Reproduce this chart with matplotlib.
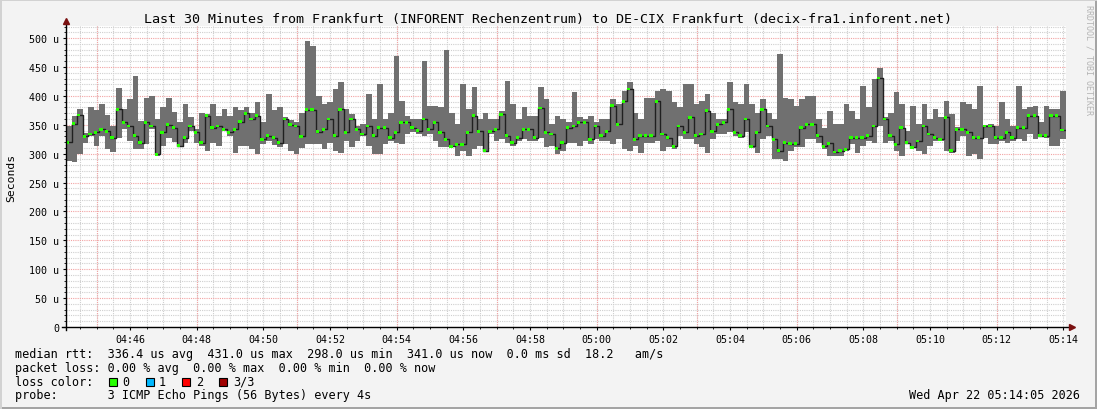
import numpy as np
import matplotlib
matplotlib.use('Agg')
from matplotlib import pyplot as plt
from matplotlib.ticker import MultipleLocator, FuncFormatter
from matplotlib.patches import Rectangle

# time axis: 10 s steps from 04:44:05
start = 4*3600 + 44*60 + 5
step = 10

# min / median / max rtt per step (microseconds)
lo = [288, 285, 300, 318, 331, 313, 331, 308, 303, 328, 342, 322, 308, 308, 316, 342, 296, 313, 328, 320,
      311, 319, 339, 319, 313, 305, 319, 313, 339, 331, 302, 313, 313, 308, 300, 316, 322, 315, 311, 316,
      305, 299, 310, 316, 316, 316, 308, 319, 305, 302, 322, 311, 322, 331, 313, 299, 299, 316, 322, 319,
      316, 334, 337, 334, 331, 334, 322, 311, 311, 311, 296, 305, 296, 308, 313, 303, 334, 322, 325, 319,
      313, 322, 325, 322, 322, 328, 311, 313, 299, 305, 319, 319, 313, 322, 316, 325, 322, 322, 316, 325,
      308, 305, 313, 302, 319, 319, 322, 305, 311, 308, 331, 325, 325, 316, 311, 302, 325, 334, 334, 337,
      331, 328, 337, 310, 302, 325, 331, 291, 291, 288, 305, 311, 311, 325, 325, 319, 308, 296, 296, 296,
      305, 316, 302, 313, 322, 319, 348, 319, 322, 305, 296, 316, 309, 305, 299, 313, 322, 322, 305, 302,
      322, 331, 296, 299, 291, 328, 316, 316, 322, 319, 322, 325, 322, 334, 325, 329, 328, 313, 313, 325]
med = [320, 352, 367, 330, 334, 337, 342, 339, 328, 377, 354, 348, 331, 319, 354, 348, 299, 337, 350, 345,
       314, 328, 348, 337, 319, 366, 345, 348, 342, 337, 342, 355, 370, 360, 366, 325, 331, 328, 319, 360,
       350, 348, 330, 376, 376, 338, 342, 360, 331, 377, 337, 360, 342, 334, 348, 331, 345, 345, 328, 337,
       354, 354, 345, 340, 360, 342, 354, 337, 325, 313, 316, 316, 337, 366, 339, 305, 339, 342, 368, 331,
       319, 328, 342, 342, 328, 379, 337, 334, 309, 319, 345, 348, 354, 354, 325, 348, 331, 339, 383, 351,
       391, 412, 325, 331, 331, 331, 391, 334, 328, 313, 348, 337, 363, 331, 334, 374, 339, 351, 354, 377,
       337, 331, 360, 313, 337, 377, 348, 325, 305, 319, 317, 317, 345, 351, 351, 331, 313, 318, 303, 305,
       308, 328, 328, 328, 331, 348, 431, 360, 331, 316, 345, 319, 311, 322, 348, 334, 328, 325, 363, 305,
       342, 342, 337, 328, 328, 348, 348, 328, 328, 337, 328, 345, 345, 366, 366, 331, 331, 366, 366, 341]
hi = [348, 365, 378, 335, 380, 375, 386, 367, 348, 413, 377, 394, 434, 357, 397, 400, 360, 380, 397, 372,
      354, 386, 363, 342, 371, 368, 386, 366, 377, 366, 380, 375, 380, 371, 389, 354, 403, 375, 380, 363,
      358, 354, 370, 495, 487, 400, 386, 389, 412, 424, 377, 368, 348, 351, 403, 360, 420, 360, 371, 469,
      391, 366, 360, 360, 461, 383, 383, 380, 480, 371, 351, 420, 377, 415, 360, 371, 360, 360, 374, 426,
      386, 360, 380, 366, 366, 415, 394, 351, 366, 360, 354, 406, 363, 360, 366, 354, 360, 360, 394, 386,
      409, 424, 371, 360, 397, 397, 409, 412, 409, 389, 380, 420, 420, 386, 391, 403, 371, 360, 360, 424,
      389, 386, 420, 386, 371, 394, 371, 360, 472, 397, 394, 383, 394, 400, 400, 360, 345, 374, 351, 351,
      386, 374, 360, 418, 380, 429, 448, 363, 371, 406, 386, 339, 383, 351, 386, 360, 377, 363, 391, 368,
      346, 389, 386, 377, 418, 350, 352, 348, 389, 360, 348, 418, 377, 380, 383, 354, 383, 377, 377, 409]

title = 'Last 30 Minutes from Frankfurt (INFORENT Rechenzentrum) to DE-CIX Frankfurt (decix-fra1.inforent.net)'
stats = [
    'median rtt:  336.4 us avg  431.0 us max  298.0 us min  341.0 us now  0.0 ms sd  18.2   am/s',
    'packet loss: 0.00 % avg  0.00 % max  0.00 % min  0.00 % now',
    'loss color:',
    'probe:       3 ICMP Echo Pings (56 Bytes) every 4s',
]
loss_labels = ['0', '1', '2', '3/3']
loss_colors = ['#26ff00', '#00b8ff', '#ff0000', '#a00000']
stamp = 'Wed Apr 22 05:14:05 2026'

W, H = 1097, 410
mono = 'DejaVu Sans Mono'
fig = plt.figure(figsize=(W/100, H/100), dpi=100, facecolor='#f3f3f3')
ax = fig.add_axes([66/W, 1 - 328/H, 1000/W, 301/H])
ax.set_facecolor('white')

n = len(med)
t = start + step*np.arange(n + 1)
lo_e = np.append(lo, lo[-1])
hi_e = np.append(hi, hi[-1])
med_e = np.append(med, med[-1])

ax.fill_between(t, lo_e, hi_e, step='post', color='#707070', lw=0, zorder=3)
ax.step(t, med_e, where='post', color='#202020', lw=1, zorder=4)
ax.bar(t[:-1], 5, bottom=np.array(med) - 2.5, width=step*0.6, align='edge',
       color=loss_colors[0], lw=0, zorder=5)

ax.set_xlim(start, start + 1800)
ax.set_ylim(0, 521)

# grid: gray dotted minor, red dotted major
ax.xaxis.set_major_locator(MultipleLocator(120))
ax.xaxis.set_minor_locator(MultipleLocator(30))
ax.yaxis.set_major_locator(MultipleLocator(50))
ax.yaxis.set_minor_locator(MultipleLocator(10))
gcol = '#cfcfcf'
rcol = '#f2a3a3'
ax.grid(which='both', axis='x', color=gcol, ls=(0, (1, 1)), lw=0.8, zorder=1)
ax.grid(which='minor', axis='y', color=gcol, ls=(0, (1, 1)), lw=0.8, zorder=1)
ax.grid(which='major', axis='y', color=rcol, ls=(0, (1, 1)), lw=0.8, zorder=2)
for xv in np.arange(np.ceil(start/180)*180, start + 1800, 180):
    ax.axvline(xv, color=rcol, ls=(0, (1, 1)), lw=0.8, zorder=2)

ax.xaxis.set_major_formatter(FuncFormatter(lambda v, p: '%02d:%02d' % (v//3600, (v % 3600)//60)))
ax.yaxis.set_major_formatter(FuncFormatter(lambda v, p: '0' if v == 0 else '%d u' % v))
ax.tick_params(which='major', length=2, width=0.8, color='black', labelsize=7.2, pad=3)
ax.tick_params(which='minor', length=1.5, width=0.6, color='black')
for lab in ax.get_xticklabels() + ax.get_yticklabels():
    lab.set_family(mono)
for s in ax.spines.values():
    s.set_visible(False)

# axis lines with arrows
ax.plot([-4/1000, 1.004], [0, 0], color='black', lw=1, transform=ax.transAxes, clip_on=False, zorder=6)
ax.plot([0, 0], [-3/301, 1.014], color='black', lw=1, transform=ax.transAxes, clip_on=False, zorder=6)
ax.plot([1.006], [0], marker='>', ms=4, color='#7a1010', transform=ax.transAxes, clip_on=False, zorder=7)
ax.plot([0], [1.017], marker='^', ms=4, color='#7a1010', transform=ax.transAxes, clip_on=False, zorder=7)

ax.set_ylabel('Seconds', family=mono, fontsize=8.2)
ax.yaxis.set_label_coords(-50/1000, 0.5)

def fx(px):
    return px / W

def fy(py):
    return 1 - py / H

fig.text(fx(548), fy(19), title, family=mono, fontsize=9.6, ha='center', va='center')

for k, line in enumerate(stats):
    fig.text(fx(15), fy(354.5 + 13.8*k), line, family=mono, fontsize=8.5, ha='left', va='center')

box_x = [108.5, 145.5, 182, 219]
lab_x = [122, 159, 196, 233]
for bx, lx, c, lab in zip(box_x, lab_x, loss_colors, loss_labels):
    fig.patches.append(Rectangle((fx(bx), fy(386.5)), 8/W, 8/H, transform=fig.transFigure,
                                 facecolor=c, edgecolor='black', lw=0.8))
    fig.text(fx(lx), fy(382.3), lab, family=mono, fontsize=8.5, ha='left', va='center')

fig.text(fx(1080), fy(396), stamp, family=mono, fontsize=8.5, ha='right', va='center')
fig.text(fx(1089), fy(5), 'RRDTOOL / TOBI OETIKER', family=mono, fontsize=6, color='#b4b4b4',
         rotation=270, ha='center', va='top')

# frame shading
fig.patches.append(Rectangle((0, 0), 1, 2.5/H, transform=fig.transFigure, color='#a4a4a4', lw=0))
fig.patches.append(Rectangle((1 - 2.5/W, 0), 2.5/W, 1, transform=fig.transFigure, color='#a4a4a4', lw=0))
fig.patches.append(Rectangle((0, 1 - 1.5/H), 1, 1.5/H, transform=fig.transFigure, color='#d2d2d2', lw=0))
fig.patches.append(Rectangle((0, 0), 1.5/W, 1, transform=fig.transFigure, color='#d2d2d2', lw=0))

fig.savefig('out.png', dpi=100, facecolor=fig.get_facecolor())
